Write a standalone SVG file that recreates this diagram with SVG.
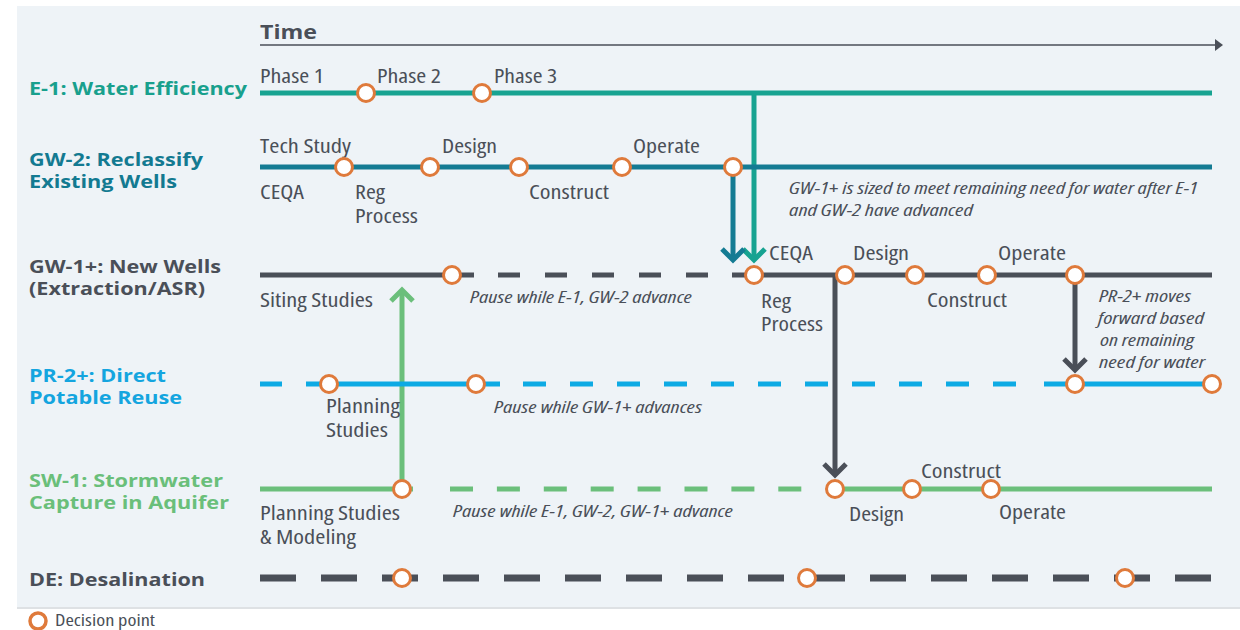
<svg xmlns="http://www.w3.org/2000/svg" width="1240" height="630" viewBox="0 0 1240 630">
<style>
.lbl{font-family:"Open Sans","Noto Sans","Liberation Sans",sans-serif;font-stretch:condensed;font-size:20px;fill:#4a4f58}
.note{font-family:"Open Sans","Noto Sans","Liberation Sans",sans-serif;font-stretch:condensed;font-style:italic;font-size:17px;fill:#4a4f58}
.row{font-family:"Open Sans","Noto Sans","Liberation Sans",sans-serif;font-weight:bold;font-size:18px}
.dp{fill:#fff;stroke:#df7a3b;stroke-width:3}
.ln{fill:none;stroke-width:5}
.e1{stroke:#17a391}.gw2{stroke:#147b93}.gw1{stroke:#4a4f58}.pr2{stroke:#0daae4}.sw1{stroke:#6bbf7b}
</style>
<defs>
<marker id="aTeal" markerUnits="userSpaceOnUse" viewBox="-16 -16 22 32" refX="0" refY="0" markerWidth="22" markerHeight="32" orient="auto" overflow="visible"><path d="M-11,-11 L0,0 L-11,11" fill="none" stroke="#17a391" stroke-width="5"/></marker>
<marker id="aDTeal" markerUnits="userSpaceOnUse" viewBox="-16 -16 22 32" refX="0" refY="0" markerWidth="22" markerHeight="32" orient="auto" overflow="visible"><path d="M-11,-11 L0,0 L-11,11" fill="none" stroke="#147b93" stroke-width="5"/></marker>
<marker id="aGrey" markerUnits="userSpaceOnUse" viewBox="-16 -16 22 32" refX="0" refY="0" markerWidth="22" markerHeight="32" orient="auto" overflow="visible"><path d="M-11,-11 L0,0 L-11,11" fill="none" stroke="#4a4f58" stroke-width="5"/></marker>
<marker id="aGreen" markerUnits="userSpaceOnUse" viewBox="-16 -16 22 32" refX="0" refY="0" markerWidth="22" markerHeight="32" orient="auto" overflow="visible"><path d="M-11,-11 L0,0 L-11,11" fill="none" stroke="#6bbf7b" stroke-width="5"/></marker>
<marker id="tri" markerUnits="userSpaceOnUse" viewBox="0 0 10 14" refX="0" refY="7" markerWidth="10" markerHeight="14" orient="auto"><path d="M0,1 L8,7 L0,13 Z" fill="#4a4f58"/></marker>
</defs>

<rect x="0" y="0" width="1240" height="630" fill="#ffffff"/>
<rect x="17" y="6" width="1223" height="601" fill="#eef3f7"/>
<line x1="17" y1="608" x2="1240" y2="608" stroke="#d3d7db" stroke-width="1.5"/>

<g id="time-axis">
<text x="260" y="39" class="row" style="font-size:20px;fill:#4a4f58" textLength="57" lengthAdjust="spacingAndGlyphs">Time</text>
<line x1="260" y1="45" x2="1215" y2="45" stroke="#4a4f58" stroke-width="1.6" marker-end="url(#tri)"/>
</g>

<g id="connectors">
<line class="ln e1" x1="754" y1="93" x2="754" y2="260" marker-end="url(#aTeal)"/>
<line class="ln gw2" x1="733" y1="175" x2="733" y2="260" marker-end="url(#aDTeal)"/>
<line class="ln sw1" x1="402" y1="480" x2="402" y2="290" marker-end="url(#aGreen)"/>
<line class="ln gw1" x1="835" y1="275" x2="835" y2="475" marker-end="url(#aGrey)"/>
<line class="ln gw1" x1="1075" y1="283" x2="1075" y2="370" marker-end="url(#aGrey)"/>
</g>

<g id="e1">
<text x="29" y="95" class="row" fill="#18a08d" textLength="218" lengthAdjust="spacingAndGlyphs">E-1: Water Efficiency</text>
<line class="ln e1" x1="260" y1="93" x2="1212" y2="93"/>
<text class="lbl" x="260" y="83" textLength="64" lengthAdjust="spacingAndGlyphs">Phase 1</text>
<text class="lbl" x="377" y="83" textLength="64" lengthAdjust="spacingAndGlyphs">Phase 2</text>
<text class="lbl" x="494" y="83" textLength="63" lengthAdjust="spacingAndGlyphs">Phase 3</text>
<circle class="dp" cx="366" cy="93" r="8.5"/>
<circle class="dp" cx="482" cy="93" r="8.5"/>
</g>

<g id="gw2">
<text x="29" y="166" class="row" fill="#137a91" textLength="174" lengthAdjust="spacingAndGlyphs">GW-2: Reclassify</text>
<text x="29" y="188" class="row" fill="#137a91" textLength="148" lengthAdjust="spacingAndGlyphs">Existing Wells</text>
<line class="ln gw2" x1="260" y1="167" x2="1212" y2="167"/>
<text class="lbl" x="260" y="153" textLength="91" lengthAdjust="spacingAndGlyphs">Tech Study</text>
<text class="lbl" x="442" y="153" textLength="55" lengthAdjust="spacingAndGlyphs">Design</text>
<text class="lbl" x="633" y="153" textLength="67" lengthAdjust="spacingAndGlyphs">Operate</text>
<text class="lbl" x="260" y="199" textLength="44" lengthAdjust="spacingAndGlyphs">CEQA</text>
<text class="lbl" x="355" y="199" textLength="30" lengthAdjust="spacingAndGlyphs">Reg</text>
<text class="lbl" x="355" y="223" textLength="63" lengthAdjust="spacingAndGlyphs">Process</text>
<text class="lbl" x="529" y="199" textLength="80" lengthAdjust="spacingAndGlyphs">Construct</text>
<text class="note" x="789" y="194" textLength="409" lengthAdjust="spacingAndGlyphs">GW-1+ is sized to meet remaining need for water after E-1</text>
<text class="note" x="789" y="216" textLength="184" lengthAdjust="spacingAndGlyphs">and GW-2 have advanced</text>
<circle class="dp" cx="344" cy="167" r="8.5"/>
<circle class="dp" cx="430" cy="167" r="8.5"/>
<circle class="dp" cx="519" cy="167" r="8.5"/>
<circle class="dp" cx="622" cy="167" r="8.5"/>
<circle class="dp" cx="733" cy="167" r="8.5"/>
</g>

<g id="gw1">
<text x="29" y="273" class="row" fill="#4a4f58" textLength="192" lengthAdjust="spacingAndGlyphs">GW-1+: New Wells</text>
<text x="29" y="295" class="row" fill="#4a4f58" textLength="176" lengthAdjust="spacingAndGlyphs">(Extraction/ASR)</text>
<line class="ln gw1" x1="260" y1="275" x2="474" y2="275"/>
<line class="ln gw1" x1="498" y1="275" x2="710" y2="275" stroke-dasharray="22 25"/>
<line class="ln gw1" x1="732" y1="275" x2="1212" y2="275"/>
<text class="lbl" x="260" y="307" textLength="113" lengthAdjust="spacingAndGlyphs">Siting Studies</text>
<text class="note" x="470" y="303" textLength="222" lengthAdjust="spacingAndGlyphs">Pause while E-1, GW-2 advance</text>
<text class="lbl" x="769" y="260" textLength="44" lengthAdjust="spacingAndGlyphs">CEQA</text>
<text class="lbl" x="853" y="260" textLength="56" lengthAdjust="spacingAndGlyphs">Design</text>
<text class="lbl" x="998" y="260" textLength="68" lengthAdjust="spacingAndGlyphs">Operate</text>
<text class="lbl" x="761" y="308" textLength="30" lengthAdjust="spacingAndGlyphs">Reg</text>
<text class="lbl" x="761" y="331" textLength="62" lengthAdjust="spacingAndGlyphs">Process</text>
<text class="lbl" x="927" y="307" textLength="80" lengthAdjust="spacingAndGlyphs">Construct</text>
<text class="note" x="1099" y="302" textLength="92" lengthAdjust="spacingAndGlyphs">PR-2+ moves</text>
<text class="note" x="1098" y="324" textLength="106" lengthAdjust="spacingAndGlyphs">forward based</text>
<text class="note" x="1100" y="346" textLength="94" lengthAdjust="spacingAndGlyphs">on remaining</text>
<text class="note" x="1099" y="368" textLength="106" lengthAdjust="spacingAndGlyphs">need for water</text>
<circle class="dp" cx="452" cy="275" r="8.5"/>
<circle class="dp" cx="754" cy="275" r="8.5"/>
<circle class="dp" cx="845" cy="275" r="8.5"/>
<circle class="dp" cx="915" cy="275" r="8.5"/>
<circle class="dp" cx="987" cy="275" r="8.5"/>
<circle class="dp" cx="1075" cy="275" r="8.5"/>
</g>

<g id="pr2">
<text x="29" y="382" class="row" fill="#14a5df" textLength="137" lengthAdjust="spacingAndGlyphs">PR-2+: Direct</text>
<text x="29" y="404" class="row" fill="#14a5df" textLength="153" lengthAdjust="spacingAndGlyphs">Potable Reuse</text>
<line class="ln pr2" x1="260" y1="384" x2="282" y2="384"/>
<line class="ln pr2" x1="306" y1="384" x2="500" y2="384"/>
<line class="ln pr2" x1="523" y1="384" x2="1020" y2="384" stroke-dasharray="23 24"/>
<line class="ln pr2" x1="1044" y1="384" x2="1212" y2="384"/>
<text class="lbl" x="326" y="413" textLength="74" lengthAdjust="spacingAndGlyphs">Planning</text>
<text class="lbl" x="326" y="437" textLength="62" lengthAdjust="spacingAndGlyphs">Studies</text>
<text class="note" x="494" y="413" textLength="208" lengthAdjust="spacingAndGlyphs">Pause while GW-1+ advances</text>
<circle class="dp" cx="329" cy="384" r="8.5"/>
<circle class="dp" cx="476" cy="384" r="8.5"/>
<circle class="dp" cx="1075" cy="384" r="8.5"/>
<circle class="dp" cx="1212" cy="384" r="8.5"/>
</g>

<g id="sw1">
<text x="29" y="487" class="row" fill="#6abf7a" textLength="194" lengthAdjust="spacingAndGlyphs">SW-1: Stormwater</text>
<text x="29" y="509" class="row" fill="#6abf7a" textLength="200" lengthAdjust="spacingAndGlyphs">Capture in Aquifer</text>
<line class="ln sw1" x1="260" y1="489" x2="413" y2="489"/>
<line class="ln sw1" x1="450" y1="489" x2="802" y2="489" stroke-dasharray="23 23.9"/>
<line class="ln sw1" x1="826" y1="489" x2="1212" y2="489"/>
<text class="lbl" x="260" y="520" textLength="140" lengthAdjust="spacingAndGlyphs">Planning Studies</text>
<text class="lbl" x="260" y="544" textLength="96" lengthAdjust="spacingAndGlyphs">&amp; Modeling</text>
<text class="note" x="453" y="517" textLength="280" lengthAdjust="spacingAndGlyphs">Pause while E-1, GW-2, GW-1+ advance</text>
<text class="lbl" x="921" y="478" textLength="80" lengthAdjust="spacingAndGlyphs">Construct</text>
<text class="lbl" x="849" y="521" textLength="55" lengthAdjust="spacingAndGlyphs">Design</text>
<text class="lbl" x="999" y="519" textLength="67" lengthAdjust="spacingAndGlyphs">Operate</text>
<circle class="dp" cx="402" cy="489" r="8.5"/>
<circle class="dp" cx="835" cy="489" r="8.5"/>
<circle class="dp" cx="912" cy="489" r="8.5"/>
<circle class="dp" cx="991" cy="489" r="8.5"/>
</g>

<g id="de">
<text x="29" y="586" class="row" fill="#4a4f58" textLength="176" lengthAdjust="spacingAndGlyphs">DE: Desalination</text>
<line x1="260" y1="578" x2="1212" y2="578" stroke="#4a4f58" stroke-width="7" stroke-dasharray="36 25"/>
<circle class="dp" cx="402" cy="578" r="8.5"/>
<circle class="dp" cx="807" cy="578" r="8.5"/>
<circle class="dp" cx="1125" cy="578" r="8.5"/>
</g>

<g id="legend">
<circle cx="38" cy="621" r="8" fill="#fff" stroke="#df7a3b" stroke-width="3.5"/>
<text class="lbl" x="55" y="626" style="font-size:16px" textLength="100" lengthAdjust="spacingAndGlyphs">Decision point</text>
</g>
</svg>
